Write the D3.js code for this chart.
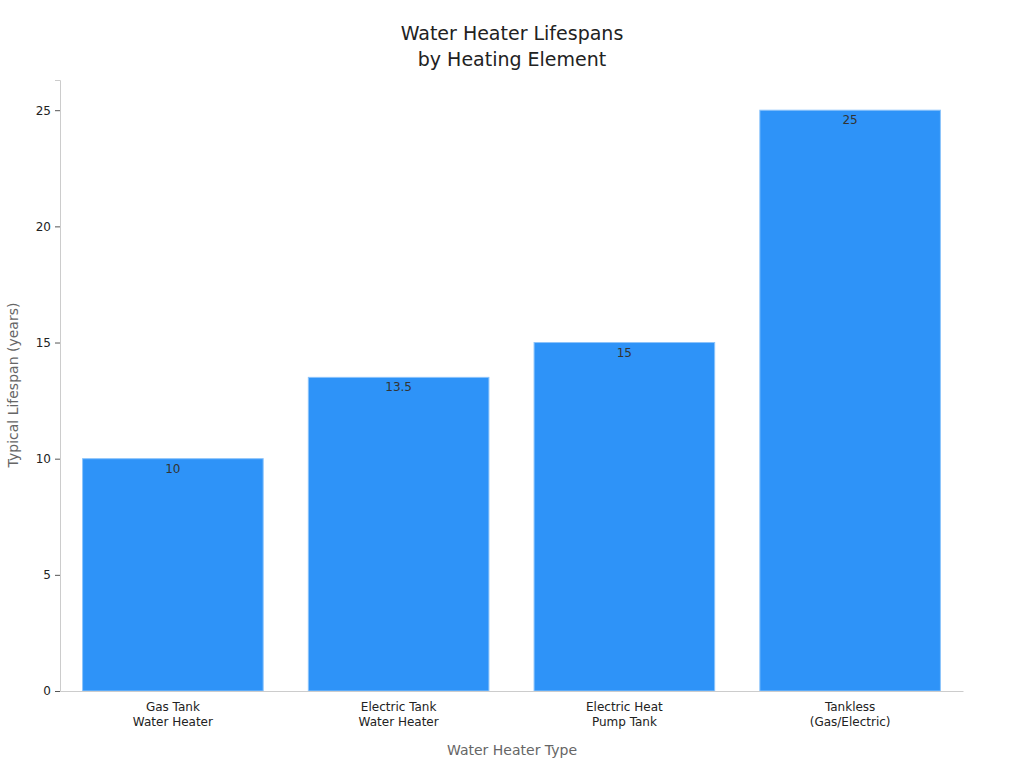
<!DOCTYPE html>
<html><head><meta charset="utf-8">
<script src="https://cdn.jsdelivr.net/npm/d3@7"></script>
<style>body{margin:0;background:#fff;font-family:"DejaVu Sans",sans-serif}</style>
</head><body><svg id="c" width="1024" height="768"></svg>
<script>
const categories = [["Gas Tank","Water Heater"],["Electric Tank","Water Heater"],["Electric Heat","Pump Tank"],["Tankless","(Gas/Electric)"]];
const values = [10, 13.5, 15, 25];
const labels = ["10","13.5","15","25"];
const yTicks = [0,5,10,15,20,25];

const svg = d3.select("#c");
const m = {l:60, r:963, t:80, b:691};
const x = d3.scaleBand().domain(d3.range(categories.length)).range([m.l, m.r]).paddingInner(0.2).paddingOuter(0.1);
const y = d3.scaleLinear().domain([0, 26.3]).range([m.b, m.t]);

svg.append("g").selectAll("rect").data(values).join("rect")
  .attr("x", (d,i)=>x(i)).attr("width", x.bandwidth())
  .attr("y", d=>y(d)).attr("height", d=>m.b - y(d))
  .attr("fill", "#2e93f8").attr("stroke", "#8cc4fb").attr("stroke-width", 1);

svg.append("g").selectAll("text").data(values).join("text")
  .attr("x", (d,i)=>x(i)+x.bandwidth()/2).attr("y", d=>y(d)+14)
  .attr("text-anchor","middle").attr("font-size",12).attr("fill","#333")
  .text((d,i)=>labels[i]);

const ya = svg.append("g").attr("transform",`translate(${m.l},0)`)
  .call(d3.axisLeft(y).tickValues(yTicks).tickSize(5).tickPadding(4));
ya.select(".domain").attr("stroke","#ccc");
ya.selectAll(".tick line").attr("stroke","#555");
ya.selectAll("text").attr("font-size",12).attr("fill","#222").attr("font-family","DejaVu Sans");

const xa = svg.append("g").attr("transform",`translate(0,${m.b})`)
  .call(d3.axisBottom(x).tickSize(0).tickFormat(""));
xa.select(".domain").attr("stroke","#ccc");
xa.selectAll(".tick").each(function(d){
  const t = d3.select(this).append("text").attr("fill","#222").attr("font-size",12)
    .attr("text-anchor","middle").attr("font-family","DejaVu Sans");
  categories[d].forEach((s,k)=>t.append("tspan").attr("x",0).attr("y",20+k*15).text(s));
});

svg.append("text").attr("x",512).attr("y",40).attr("text-anchor","middle").attr("font-size",19).attr("fill","#222").text("Water Heater Lifespans");
svg.append("text").attr("x",512).attr("y",66).attr("text-anchor","middle").attr("font-size",19).attr("fill","#222").text("by Heating Element");
svg.append("text").attr("x",512).attr("y",755).attr("text-anchor","middle").attr("font-size",14).attr("fill","#666").text("Water Heater Type");
svg.append("text").attr("transform","translate(18,385) rotate(-90)").attr("text-anchor","middle").attr("font-size",14).attr("fill","#666").text("Typical Lifespan (years)");
</script></body></html>
